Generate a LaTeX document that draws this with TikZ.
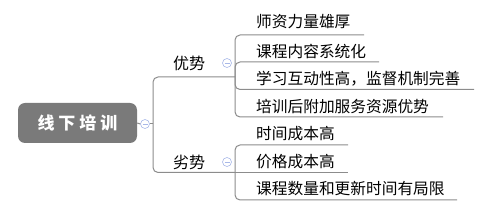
\documentclass[tikz,border=0pt]{standalone}
\usepackage{fontspec}
\setmainfont{Noto Sans CJK SC}
\definecolor{rootgray}{HTML}{7A7A7A}
\definecolor{linegray}{HTML}{8C8C8C}
\definecolor{toggleblue}{HTML}{A8B8E8}
\begin{document}
\begin{tikzpicture}[x=1pt,y=-1pt,
  conn/.style={draw=linegray, line width=1pt, rounded corners=5pt},
  leaf/.style={anchor=west, inner sep=0pt, font=\fontsize{15.7}{18}\selectfont},
  branch/.style={inner sep=0pt, font=\fontsize{16}{18}\selectfont},
  toggle/.style={circle, draw=toggleblue, fill=white, line width=0.6pt, minimum size=9pt, inner sep=0pt,
    path picture={\draw[toggleblue, line width=0.6pt] ([xshift=-2.5pt]path picture bounding box.center) -- ([xshift=2.5pt]path picture bounding box.center);}},
  rootbox/.style={rectangle, rounded corners=7pt, fill=rootgray, minimum width=119pt, minimum height=40pt, inner sep=0pt,
    text=white, font=\fontsize{17}{20}\selectfont\bfseries}
 ]
\useasboundingbox (0,0) rectangle (482,221);

% root
\node[rootbox] (root) at (77.5,123) {线\kern4pt 下\kern4pt 培\kern4pt 训};
\node[toggle] (t0) at (145,124) {};
\coordinate (j0) at (153,124);

% branches
\node[branch] (b1) at (189,63) {优势};
\node[toggle] (t1) at (227,63) {};
\coordinate (jA) at (235,77);
\node[branch] (b2) at (189,162) {劣势};
\node[toggle] (t2) at (227,162) {};
\coordinate (jB) at (235,172.5);

\draw[conn] (root.east) -- (t0.west);
\draw[conn] (t0.east) -- (j0);
\draw[conn] (j0) |- (jA);
\draw[conn] (j0) |- (jB);

% top children
\node[leaf] (c1) at (256,22) {师资力量雄厚};
\node[leaf] (c2) at (256,51) {课程内容系统化};
\node[leaf] (c3) at (256,79) {学习互动性高，监督机制完善};
\node[leaf] (c4) at (256,106.5) {培训后附加服务资源优势};
\coordinate (e1) at (364,35);
\coordinate (e2) at (379,62);
\coordinate (e3) at (474,89.5);
\coordinate (e4) at (443,117);
\draw[conn] (jA) |- (e1);
\draw[conn] (jA) |- (e2);
\draw[conn] (jA) |- (e3);
\draw[conn] (jA) |- (e4);

% bottom children
\node[leaf] (d1) at (256,134) {时间成本高};
\node[leaf] (d2) at (256,161.5) {价格成本高};
\node[leaf] (d3) at (256,189) {课程数量和更新时间有局限};
\coordinate (f1) at (348,145);
\coordinate (f2) at (348,172.5);
\coordinate (f3) at (457,200);
\draw[conn] (jB) |- (f1);
\draw[conn] (jB) -- (f2);
\draw[conn] (jB) |- (f3);
\end{tikzpicture}
\end{document}
